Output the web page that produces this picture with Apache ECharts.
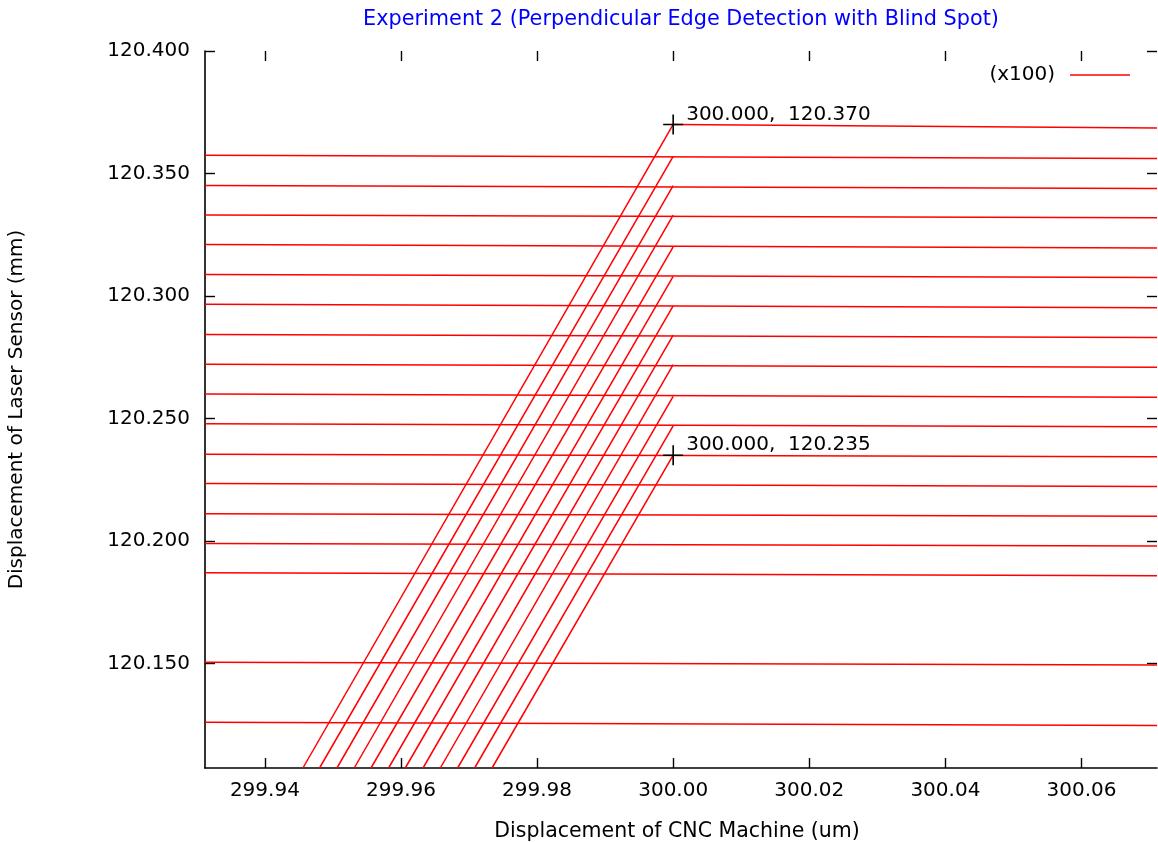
<!DOCTYPE html>
<html>
<head>
<meta charset="utf-8">
<script src="https://cdn.jsdelivr.net/npm/echarts@6/dist/echarts.min.js"></script>
<style>
  html, body { margin: 0; padding: 0; background: #fff; }
  #chart { width: 1158px; height: 842px; }
</style>
</head>
<body>
<div id="chart"></div>
<script>
// Axis extents and tick positions
const xRange = [299.9312, 300.0711];
const yRange = [120.1073, 120.400];
const xTicks = [299.94, 299.96, 299.98, 300.00, 300.02, 300.04, 300.06];
const yTicks = [120.15, 120.20, 120.25, 120.30, 120.35, 120.40];

// Surface readings of each scan line, at the left and right end of the travel
const rowLeft  = [120.3574, 120.3451, 120.3331, 120.3210, 120.3088, 120.2966, 120.2843, 120.2721,
                  120.2600, 120.2478, 120.2354, 120.2234, 120.2111, 120.1989, 120.1870, 120.1505, 120.1260];
const rowRight = [120.3561, 120.3439, 120.3319, 120.3196, 120.3075, 120.2952, 120.2830, 120.2709,
                  120.2587, 120.2466, 120.2344, 120.2222, 120.2101, 120.1979, 120.1858, 120.1493, 120.1247];

// Upper scan that only starts at the edge
const edgeX = 300.000;
const topRow = [120.370, 120.3686];

// Edge rises: foot position (at the lower axis limit) and level reached at the edge
const riseFootX = [299.94559, 299.94803, 299.95059, 299.95313, 299.95559, 299.95818,
                   299.96063, 299.96324, 299.96578, 299.96832, 299.97082, 299.97338];
const riseTopY  = [120.370, 120.357, 120.345, 120.333, 120.320, 120.308,
                   120.296, 120.284, 120.272, 120.259, 120.247, 120.235];

// Marked points on the edge
const marked = [[300.000, 120.370], [300.000, 120.235]];

const FONT = 'DejaVu Sans';
const FS = 20;
const RED = '#ff0000';
const NAME = '(x100)';

function seg(points) {
  return {
    type: 'line',
    name: NAME,
    data: points,
    symbol: 'none',
    clip: true,
    silent: true,
    animation: false,
    lineStyle: { color: RED, width: 1.5 },
    itemStyle: { color: RED },
    z: 2
  };
}

const series = [];
rowLeft.forEach((yl, i) => {
  series.push(seg([[xRange[0], yl], [xRange[1], rowRight[i]]]));
});
series.push(seg([[edgeX, topRow[0]], [xRange[1], topRow[1]]]));
riseFootX.forEach((fx, i) => {
  series.push(seg([[fx, yRange[0]], [edgeX, riseTopY[i]]]));
});

series.push({
  type: 'scatter',
  name: 'marks',
  data: marked,
  symbol: 'path://M0,9.2h20v1.6h-20z M9.2,0h1.6v20h-1.6z',
  symbolSize: 20,
  itemStyle: { color: '#000', opacity: 1 },
  silent: true,
  animation: false,
  z: 5,
  label: {
    show: true,
    position: 'right',
    distance: 3,
    offset: [0, -10],
    fontFamily: FONT,
    fontSize: FS,
    color: '#000',
    textBorderWidth: 0,
    formatter: p => p.value[0].toFixed(3) + ',  ' + p.value[1].toFixed(3)
  }
});

const tickStyle = { show: true, inside: true, length: 10, lineStyle: { color: '#000', width: 1.4 } };

const option = {
  backgroundColor: '#fff',
  animation: false,
  title: {
    text: 'Experiment 2 (Perpendicular Edge Detection with Blind Spot)',
    left: 676,
    textAlign: 'center',
    top: 4,
    textStyle: { fontFamily: FONT, fontSize: 20.8, fontWeight: 'normal', color: '#0000ff' }
  },
  legend: {
    data: [{ name: NAME, icon: 'rect' }],
    right: 23,
    top: 60,
    align: 'right',
    itemWidth: 60,
    itemHeight: 1.5,
    selectedMode: false,
    textStyle: { fontFamily: FONT, fontSize: FS, color: '#000', padding: [0, 10, 0, 0] }
  },
  grid: { left: 205, right: 1, top: 51, bottom: 74, containLabel: false, outerBoundsMode: 'none' },
  xAxis: [{
    type: 'value',
    min: xRange[0],
    max: xRange[1],
    position: 'bottom',
    name: 'Displacement of CNC Machine (um)',
    nameLocation: 'middle',
    nameGap: 53,
    nameTextStyle: { fontFamily: FONT, fontSize: 20.5, color: '#000', padding: [0, 8, 0, 0] },
    axisLine: { show: true, lineStyle: { color: '#000', width: 1.6 } },
    axisTick: Object.assign({ customValues: xTicks }, tickStyle),
    axisLabel: {
      customValues: xTicks,
      formatter: v => v.toFixed(2),
      fontFamily: FONT, fontSize: FS, color: '#000', margin: 13
    },
    splitLine: { show: false }
  }, {
    type: 'value',
    min: xRange[0],
    max: xRange[1],
    position: 'top',
    axisLine: { show: false },
    axisTick: Object.assign({ customValues: xTicks }, tickStyle),
    axisLabel: { show: false, customValues: xTicks },
    splitLine: { show: false }
  }],
  yAxis: [{
    type: 'value',
    min: yRange[0],
    max: yRange[1],
    position: 'left',
    name: 'Displacement of Laser Sensor (mm)',
    nameLocation: 'middle',
    nameGap: 178,
    nameTextStyle: { fontFamily: FONT, fontSize: FS, color: '#000' },
    axisLine: { show: true, lineStyle: { color: '#000', width: 1.6 } },
    axisTick: Object.assign({ customValues: yTicks }, tickStyle),
    axisLabel: {
      customValues: yTicks,
      formatter: v => v.toFixed(3),
      fontFamily: FONT, fontSize: FS, color: '#000', margin: 15
    },
    splitLine: { show: false }
  }, {
    type: 'value',
    min: yRange[0],
    max: yRange[1],
    position: 'right',
    axisLine: { show: false },
    axisTick: Object.assign({ customValues: yTicks }, tickStyle),
    axisLabel: { show: false, customValues: yTicks },
    splitLine: { show: false }
  }],
  series: series
};

const chart = echarts.init(document.getElementById('chart'), null, { renderer: 'canvas' });
chart.setOption(option);
</script>
</body>
</html>
